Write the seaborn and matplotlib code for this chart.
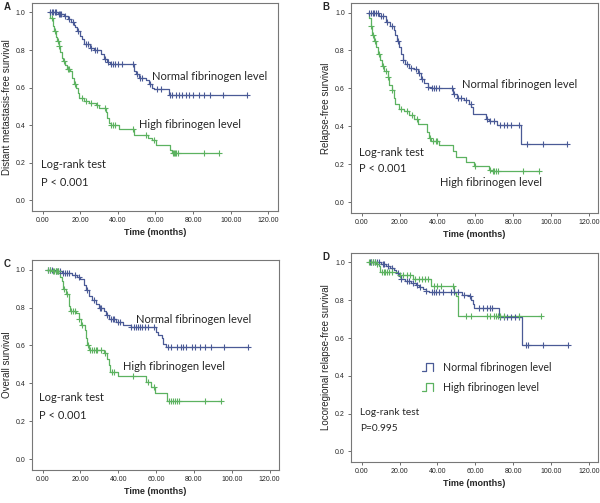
import numpy as np
import pandas as pd
import matplotlib
matplotlib.use("Agg")
import matplotlib.pyplot as plt
from matplotlib.legend_handler import HandlerBase
from matplotlib.lines import Line2D
import seaborn as sns

# ---- data ----
# panel A: distant metastasis-free survival
a_norm_t = [3.2, 8, 11.5, 13.5, 15, 16.5, 17.3, 18.5, 20, 21, 22, 25, 27.4, 31, 32.7, 34.5, 35.7,
            48.7, 49.6, 51.3, 55, 56.6, 58.4, 59.3, 67.3]
a_norm_s = [1.0, 0.99, 0.98, 0.965, 0.95, 0.935, 0.92, 0.90, 0.875, 0.86, 0.83, 0.81, 0.80, 0.78, 0.75,
            0.735, 0.725, 0.69, 0.67, 0.65, 0.64, 0.62, 0.60, 0.59, 0.56]
a_norm_end = 108.8
a_norm_cens = [4, 5, 5.5, 6.5, 7, 8.5, 9.5, 10, 12, 14, 16, 19, 23, 24, 26, 28, 29, 33, 35, 36.5, 37.5,
               38.5, 40, 42, 48, 50, 52, 53, 57, 61, 63, 67.5, 69, 71, 72.5, 74, 76, 78, 80, 83, 86, 89,
               96, 108.8]
a_high_t = [3.2, 4, 5.3, 6, 7, 7.8, 8.8, 9.5, 10.3, 11, 12, 13, 14.5, 15.6, 16.8, 17.6, 18.6, 19.5, 22,
            24.8, 28.3, 30, 33.6, 34.5, 35.4, 36.3, 40.7, 48.7, 55.8, 58.4, 60.2, 67.6, 69]
a_high_s = [1.0, 0.97, 0.93, 0.90, 0.87, 0.85, 0.82, 0.79, 0.76, 0.74, 0.72, 0.70, 0.69, 0.65, 0.62, 0.60,
            0.57, 0.545, 0.53, 0.52, 0.51, 0.49, 0.47, 0.44, 0.41, 0.40, 0.38, 0.35, 0.33, 0.32, 0.295,
            0.27, 0.25]
a_high_end = 94
a_high_cens = [5, 6.5, 8, 9, 11.5, 13.5, 14, 17, 21, 23, 26, 29, 33, 36.5, 37.5, 38.5, 48, 55, 59, 69.5,
               70, 70.5, 71, 72, 86, 94]

# panel B: relapse-free survival
b_norm_t = [3.2, 9.3, 12.8, 15, 16.9, 17.8, 18.6, 19.9, 20.7, 21.8, 23, 25, 27.8, 29.5, 31.3, 33, 34.8,
            36.5, 48, 50.6, 54.1, 56.8, 58, 59, 65.5, 67.3, 71.7, 84]
b_norm_s = [1.0, 0.98, 0.95, 0.93, 0.91, 0.88, 0.85, 0.82, 0.78, 0.75, 0.73, 0.71, 0.70, 0.68, 0.65,
            0.63, 0.61, 0.60, 0.57, 0.55, 0.54, 0.52, 0.50, 0.465, 0.44, 0.43, 0.41, 0.305]
b_norm_end = 108.6
b_norm_cens = [4, 5, 6, 6.5, 7.5, 8.5, 10, 11, 13.5, 16, 19, 22, 24, 26, 28.5, 30, 32, 35, 37, 38, 39.5,
               41, 47.5, 49, 51, 52.5, 55, 57.5, 66, 68, 70, 73, 75, 77, 79, 83, 87.5, 96, 108.6]
b_high_t = [3.2, 4, 4.9, 5.5, 6.7, 7.6, 8.8, 9.7, 10.5, 12, 13.7, 14.6, 15.8, 16.8, 17.8, 19.5, 22.5,
            25, 27.8, 29.5, 34.4, 35.7, 36.8, 41, 48, 49.7, 55, 59.4, 67.3, 69]
b_high_s = [1.0, 0.97, 0.93, 0.88, 0.85, 0.82, 0.78, 0.75, 0.72, 0.69, 0.66, 0.62, 0.59, 0.55, 0.52,
            0.49, 0.48, 0.46, 0.44, 0.415, 0.37, 0.34, 0.325, 0.30, 0.27, 0.24, 0.21, 0.19, 0.17, 0.165]
b_high_end = 93.7
b_high_cens = [5, 6, 7, 9, 11, 13, 14, 16, 21, 24, 26.5, 29, 36, 37.5, 39, 40, 60, 68, 69.5, 70, 71, 72,
               85, 93.7]

# panel C: overall survival
c_norm_t = [2.1, 6.6, 10.2, 15.5, 18, 20, 21.8, 23, 24.8, 26.3, 28, 29.8, 32.5, 33.4, 35.2, 38.8, 42.3,
            46.8, 60.2, 61.2, 62.9, 63.8, 65.2]
c_norm_s = [1.0, 0.99, 0.98, 0.97, 0.96, 0.95, 0.92, 0.89, 0.86, 0.84, 0.82, 0.80, 0.78, 0.76, 0.74,
            0.725, 0.71, 0.695, 0.67, 0.655, 0.64, 0.61, 0.59]
c_norm_end = 108.8
c_norm_cens = [3, 4, 5, 7, 8, 9, 11, 12, 13, 14, 17, 19, 23.5, 27, 30.5, 31, 34, 36, 37, 38, 40, 41, 47,
               48.5, 49.5, 50.5, 51.5, 52.5, 54, 56, 59, 66.5, 68, 71, 73, 74.5, 76, 79, 80.5, 83, 86,
               89, 96, 108.8]
c_high_t = [2.1, 5, 8.4, 9.3, 10.2, 11, 12.3, 13.8, 14.2, 14.6, 17.7, 19, 20.5, 22.3, 23, 23.6, 24.5,
            32.5, 34.3, 35.2, 35.7, 40, 54.8, 57.5, 59.3, 66]
c_high_s = [1.0, 0.99, 0.98, 0.96, 0.94, 0.90, 0.87, 0.84, 0.81, 0.78, 0.77, 0.74, 0.71, 0.68, 0.64,
            0.60, 0.578, 0.56, 0.53, 0.495, 0.46, 0.44, 0.41, 0.38, 0.35, 0.31]
c_high_end = 94.1
c_high_cens = [3, 4, 5.5, 6, 7, 7.5, 8, 11.5, 12.8, 15, 16, 17, 19.5, 21, 24, 25, 26, 27, 28, 29, 31,
               33, 36.5, 38, 48, 56, 59, 67, 68, 69, 70, 71, 72, 86, 94.1]

# panel D: locoregional relapse-free survival
d_norm_t = [3.9, 10, 12.7, 15, 17.1, 18, 19.8, 20.7, 22.8, 26, 28.6, 30.4, 32.2, 33.9, 35.7, 53, 56.9,
            57.8, 58.7, 59.5, 72.3, 84.6]
d_norm_s = [1.0, 0.99, 0.98, 0.97, 0.96, 0.945, 0.93, 0.915, 0.90, 0.89, 0.88, 0.87, 0.86, 0.85, 0.845,
            0.83, 0.82, 0.80, 0.78, 0.757, 0.71, 0.565]
d_norm_end = 109
d_norm_cens = [4.5, 5, 6, 7, 8, 9, 11, 12, 14, 16, 19, 21, 24, 25, 27, 29, 31, 34, 37, 38, 39, 41, 43,
               47, 49, 51, 54, 57, 62, 64, 66, 68, 69, 73, 75, 77, 79, 81, 83, 87, 88, 96, 109]
d_high_t = [3.9, 7.5, 9.2, 9.7, 18.9, 26.9, 36.6, 49, 49.8, 50.7]
d_high_s = [1.0, 0.99, 0.98, 0.95, 0.935, 0.91, 0.875, 0.84, 0.82, 0.715]
d_high_end = 94.9
d_high_cens = [4, 5, 6, 7, 8, 10.5, 11.5, 12.5, 13.5, 14.5, 16, 20, 22, 24, 25.5, 28, 30, 32, 33.5, 35,
               38, 40, 42, 48, 55, 58, 66, 68, 70, 71, 72, 73, 75, 83, 94.5]

x_ticks = [0, 20, 40, 60, 80, 100, 120]
y_ticks = [0.0, 0.2, 0.4, 0.6, 0.8, 1.0]

BLUE = "#4a5a96"
GREEN = "#5cb260"
TXT_FONT = ["Lato", "DejaVu Sans"]

sns.set_style("white")
plt.rcParams["font.family"] = ["Liberation Sans", "DejaVu Sans"]


class StepHandler(HandlerBase):
    # legend glyph drawn as a small step, like SPSS does
    def create_artists(self, legend, orig_handle, xdescent, ydescent, width, height, fontsize, trans):
        w, h = width, height
        xs = [0, 0.35 * w, 0.35 * w, w, w]
        ys = [0, 0, h * 1.1, h * 1.1, 0]
        line = Line2D(np.array(xs) - xdescent, np.array(ys) - ydescent,
                      color=orig_handle.get_color(), lw=0.9)
        line.set_transform(trans)
        return [line]


def draw_curve(ax, t, s, end, cens, color):
    xs = list(t) + [end]
    ys = list(s) + [s[-1]]
    df = pd.DataFrame({"time": xs, "surv": ys})
    sns.lineplot(data=df, x="time", y="surv", ax=ax, color=color, lw=0.9,
                 drawstyle="steps-post", estimator=None, sort=False)
    idx = np.searchsorted(np.array(t), np.array(cens), side="right") - 1
    cdf = pd.DataFrame({"time": cens, "surv": np.array(s)[np.clip(idx, 0, None)]})
    sns.scatterplot(data=cdf, x="time", y="surv", ax=ax, marker="+", color=color,
                    s=18, linewidth=0.8, zorder=3)


def style_axes(ax, ylabel, letter):
    ax.set_xlim(-5.7, 125)
    ax.set_ylim(-0.055, 1.05)
    ax.set_xticks(x_ticks)
    ax.set_xticklabels([f"{v:.2f}" for v in x_ticks], fontsize=5)
    ax.set_yticks(y_ticks)
    ax.set_yticklabels([f"{v:.1f}" for v in y_ticks], fontsize=5)
    ax.tick_params(axis="both", direction="out", length=2.5, width=0.6, color="#555555",
                   left=True, bottom=True, pad=2)
    for sp in ax.spines.values():
        sp.set_color("#777777")
        sp.set_linewidth(0.8)
    ax.set_xlabel("Time (months)", fontsize=6.5, fontweight="bold", labelpad=3)
    ax.set_ylabel(ylabel, fontsize=7, labelpad=3)
    ax.text(-0.115, 1.005, letter, transform=ax.transAxes, fontsize=7, fontweight="bold",
            ha="left", va="top")


fig = plt.figure(figsize=(6.0, 5.03), dpi=100)
axA = fig.add_axes([0.053, 0.581, 0.410, 0.413])
axB = fig.add_axes([0.585, 0.577, 0.412, 0.417])
axC = fig.add_axes([0.053, 0.066, 0.412, 0.417])
axD = fig.add_axes([0.585, 0.082, 0.412, 0.415])

# A
draw_curve(axA, a_norm_t, a_norm_s, a_norm_end, a_norm_cens, BLUE)
draw_curve(axA, a_high_t, a_high_s, a_high_end, a_high_cens, GREEN)
style_axes(axA, "Distant metastasis-free survival", "A")
axA.text(58.4, 0.658, "Normal fibrinogen level", fontsize=8, family=TXT_FONT, va="center")
axA.text(51, 0.403, "High fibrinogen level", fontsize=8, family=TXT_FONT, va="center")
axA.text(-0.9, 0.192, "Log-rank test", fontsize=8, family=TXT_FONT, va="center")
axA.text(-0.9, 0.095, "P < 0.001", fontsize=8, family=TXT_FONT, va="center")

# B
draw_curve(axB, b_norm_t, b_norm_s, b_norm_end, b_norm_cens, BLUE)
draw_curve(axB, b_high_t, b_high_s, b_high_end, b_high_cens, GREEN)
style_axes(axB, "Relapse-free survival", "B")
axB.text(52.9, 0.623, "Normal fibrinogen level", fontsize=8, family=TXT_FONT, va="center")
axB.text(41.5, 0.104, "High fibrinogen level", fontsize=8, family=TXT_FONT, va="center")
axB.text(-1.6, 0.26, "Log-rank test", fontsize=8, family=TXT_FONT, va="center")
axB.text(-1.6, 0.177, "P < 0.001", fontsize=8, family=TXT_FONT, va="center")

# C
draw_curve(axC, c_norm_t, c_norm_s, c_norm_end, c_norm_cens, BLUE)
draw_curve(axC, c_high_t, c_high_s, c_high_end, c_high_cens, GREEN)
style_axes(axC, "Overall survival", "C")
axC.text(49.5, 0.739, "Normal fibrinogen level", fontsize=8, family=TXT_FONT, va="center")
axC.text(42.3, 0.489, "High fibrinogen level", fontsize=8, family=TXT_FONT, va="center")
axC.text(-1.8, 0.326, "Log-rank test", fontsize=8, family=TXT_FONT, va="center")
axC.text(-1.8, 0.232, "P < 0.001", fontsize=8, family=TXT_FONT, va="center")

# D
draw_curve(axD, d_norm_t, d_norm_s, d_norm_end, d_norm_cens, BLUE)
draw_curve(axD, d_high_t, d_high_s, d_high_end, d_high_cens, GREEN)
style_axes(axD, "Locoregional relapse-free survival", "D")
axD.text(-0.9, 0.205, "Log-rank test", fontsize=7.3, family=TXT_FONT, va="center")
axD.text(-0.9, 0.122, "P=0.995", fontsize=7.3, family=TXT_FONT, va="center")
handles = [Line2D([], [], color=BLUE), Line2D([], [], color=GREEN)]
axD.legend(handles, ["Normal fibrinogen level", "High fibrinogen level"],
           handler_map={Line2D: StepHandler()}, loc="center left",
           bbox_to_anchor=(0.25, 0.405), frameon=False, handlelength=1.0,
           handletextpad=1.0, labelspacing=0.85, prop={"family": TXT_FONT, "size": 7.6})

fig.savefig("out.png", dpi=100)
